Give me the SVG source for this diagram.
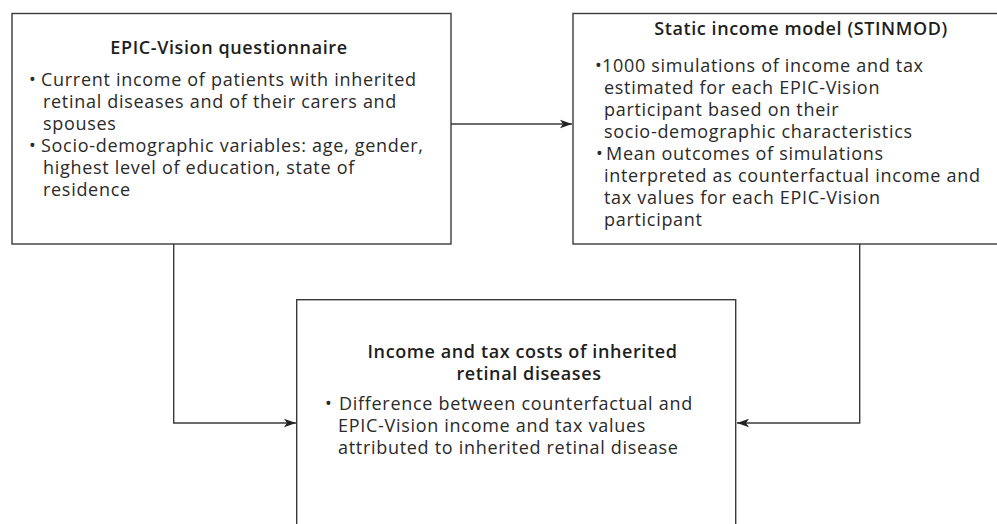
<svg xmlns="http://www.w3.org/2000/svg" width="997" height="524" viewBox="0 0 997 524">
<style>
.box{fill:#fff;stroke:#3a3a3a;stroke-width:1.4}
.t{font-family:"Open Sans","Liberation Sans",sans-serif;font-size:18px;letter-spacing:0.7px;fill:#2a2a2a}
.h{font-weight:600;text-anchor:middle;fill:#1e1e1e;letter-spacing:0.6px}
.c{fill:none;stroke:#3a3a3a;stroke-width:1.4}
</style>
<defs>
<marker id="ah" markerWidth="14" markerHeight="10" refX="12" refY="5" orient="auto" markerUnits="userSpaceOnUse">
<path d="M0,0.8 L12,5 L0,9.2 L3,5 Z" fill="#222"/>
</marker>
</defs>
<g id="connectors">
<path class="c" d="M451,124 H572" marker-end="url(#ah)"/>
<path class="c" d="M173.7,244 V423 H296" marker-end="url(#ah)"/>
<path class="c" d="M859.7,244 V423 H737" marker-end="url(#ah)"/>
</g>
<g id="epic">
<rect class="box" x="12" y="13.5" width="439" height="230.5"/>
<text class="t h" x="229" y="54">EPIC-Vision questionnaire</text>
<text class="t"><tspan x="29" y="86">•</tspan><tspan x="41" y="86">Current income of patients with inherited</tspan><tspan x="43" y="108">retinal diseases and of their carers and</tspan><tspan x="43" y="130">spouses</tspan><tspan x="29" y="152">•</tspan><tspan x="41" y="152">Socio-demographic variables: age, gender,</tspan><tspan x="43" y="174">highest level of education, state of</tspan><tspan x="43" y="196">residence</tspan></text>
</g>
<g id="stinmod">
<rect class="box" x="573" y="13.5" width="426" height="230.5"/>
<text class="t h" x="801" y="35">Static income model (STINMOD)</text>
<text class="t"><tspan x="595" y="72">•</tspan><tspan x="602" y="72">1000 simulations of income and tax</tspan><tspan x="604" y="94">estimated for each EPIC-Vision</tspan><tspan x="604" y="116">participant based on their</tspan><tspan x="604" y="138">socio-demographic characteristics</tspan><tspan x="596" y="160">•</tspan><tspan x="606" y="160">Mean outcomes of simulations</tspan><tspan x="604" y="182">interpreted as counterfactual income and</tspan><tspan x="604" y="204">tax values for each EPIC-Vision</tspan><tspan x="604" y="226">participant</tspan></text>
</g>
<g id="costs">
<rect class="box" x="296.7" y="299.7" width="439" height="240"/>
<text class="t h"><tspan x="522.5" y="358">Income and tax costs of inherited</tspan><tspan x="529" y="380">retinal diseases</tspan></text>
<text class="t"><tspan x="325" y="410">•</tspan><tspan x="339" y="410">Difference between counterfactual and</tspan><tspan x="338" y="432">EPIC-Vision income and tax values</tspan><tspan x="338" y="454">attributed to inherited retinal disease</tspan></text>
</g>
</svg>
